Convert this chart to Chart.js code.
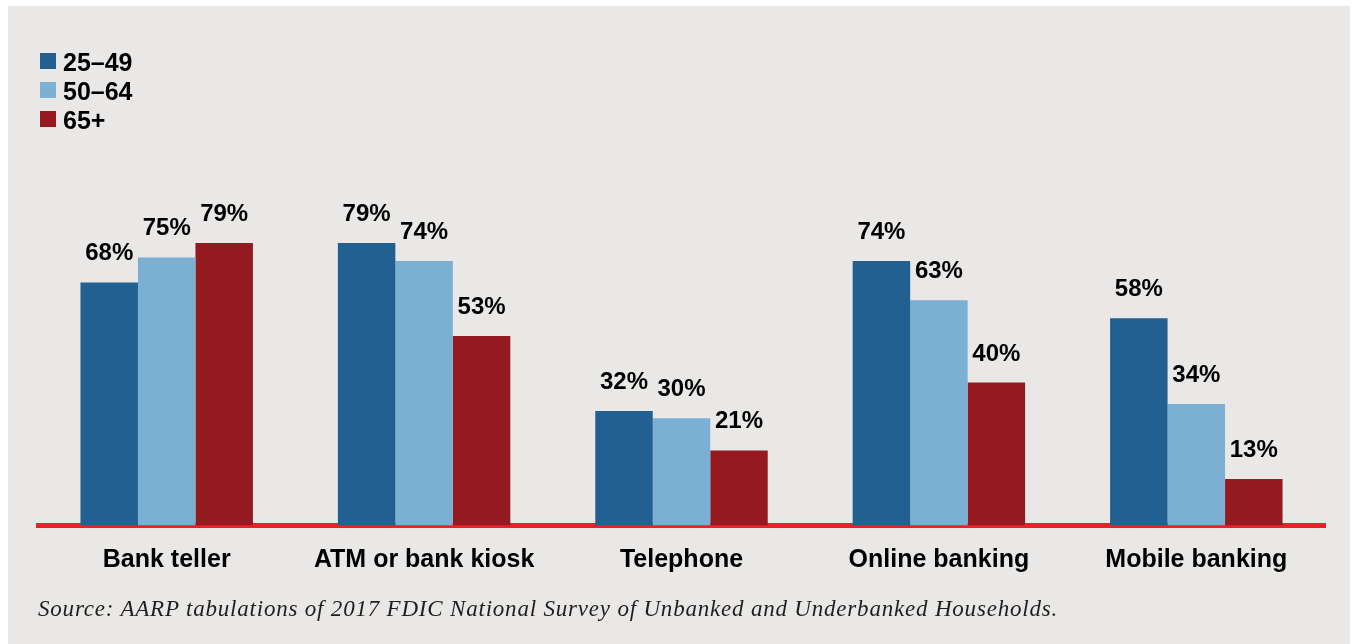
<!DOCTYPE html>
<html>
<head>
<meta charset="utf-8">
<script src="https://cdn.jsdelivr.net/npm/chart.js@4"></script>
<style>
  html, body { margin: 0; padding: 0; background: #ffffff; }
  body { width: 1353px; height: 644px; position: relative; overflow: hidden; }
  .panel { position: absolute; left: 8px; top: 6px; width: 1342px; height: 638px; background: #e9e8e6; }
  .chart-box { position: absolute; left: 0; top: 0; width: 1353px; height: 644px; }
  #legend { position: absolute; left: 40px; top: 51px; font: bold 25px "Liberation Sans", Arial, sans-serif; color: #000; }
  #legend div { height: 29px; line-height: 22px; display: flex; align-items: flex-start; }
  #legend span.box { display: inline-block; width: 16px; height: 16px; margin: 2px 7px 0 0; }
  .source { position: absolute; left: 38px; top: 596px; font: italic 23px "Liberation Serif", "DejaVu Serif", serif; letter-spacing: 0.8px; color: #1e1e1e; white-space: nowrap; }
</style>
</head>
<body>
<div class="panel"></div>
<div class="chart-box"><canvas id="chart" width="1353" height="644"></canvas></div>
<div id="legend"></div>
<div class="source">Source: AARP tabulations of 2017 FDIC National Survey of Unbanked and Underbanked Households.</div>
<script>
// channels and share of each age group using them
const channels = ["Bank teller", "ATM or bank kiosk", "Telephone", "Online banking", "Mobile banking"];
const age25to49 = [68, 79, 32, 74, 58];
const age50to64 = [75, 74, 30, 63, 34];
const age65plus = [79, 53, 21, 40, 13];

const seriesNames = ["25\u201349", "50\u201364", "65+"];
const seriesColors = ["#216090", "#7bafd4", "#941a20"];

// percent labels above each bar
const valueLabels = {
    id: "valueLabels",
    afterDatasetsDraw(chart) {
        const ctx = chart.ctx;
        ctx.save();
        ctx.font = "bold 24px 'Liberation Sans', Arial, sans-serif";
        ctx.fillStyle = "#000";
        ctx.textAlign = "center";
        ctx.textBaseline = "alphabetic";
        chart.data.datasets.forEach((ds, i) => {
            chart.getDatasetMeta(i).data.forEach((bar, j) => {
                ctx.fillText(ds.data[j] + "%", bar.x, bar.y - 22);
            });
        });
        ctx.restore();
    }
};

const ctx = document.getElementById("chart");
const myChart = new Chart(ctx, {
    type: "bar",
    data: {
        labels: channels,
        datasets: [age25to49, age50to64, age65plus].map((d, i) => ({
            label: seriesNames[i],
            data: d,
            backgroundColor: seriesColors[i],
            borderWidth: 0,
            categoryPercentage: 0.67,
            barPercentage: 1.0
        }))
    },
    options: {
        responsive: false,
        animation: false,
        layout: { padding: { left: 38, right: 28, top: 168, bottom: 68 } },
        plugins: {
            legend: { display: false },
            tooltip: { enabled: false }
        },
        scales: {
            x: {
                z: 1,
                grid: { display: false, drawTicks: false, tickLength: 0 },
                border: { display: true, color: "#ec2028", width: 5 },
                ticks: {
                    color: "#000",
                    padding: 20,
                    font: { family: "'Liberation Sans', Arial, sans-serif", size: 25, weight: "bold" }
                },
                afterFit(scale) { scale.height = 50.5; }
            },
            y: {
                display: false,
                min: 0,
                max: 100
            }
        }
    },
    plugins: [valueLabels]
});

// legend list stacked in the top-left corner
const legendEl = document.getElementById("legend");
seriesNames.forEach((name, i) => {
    const row = document.createElement("div");
    row.innerHTML = '<span class="box" style="background:' + seriesColors[i] + '"></span>' + name;
    legendEl.appendChild(row);
});
</script>
</body>
</html>
